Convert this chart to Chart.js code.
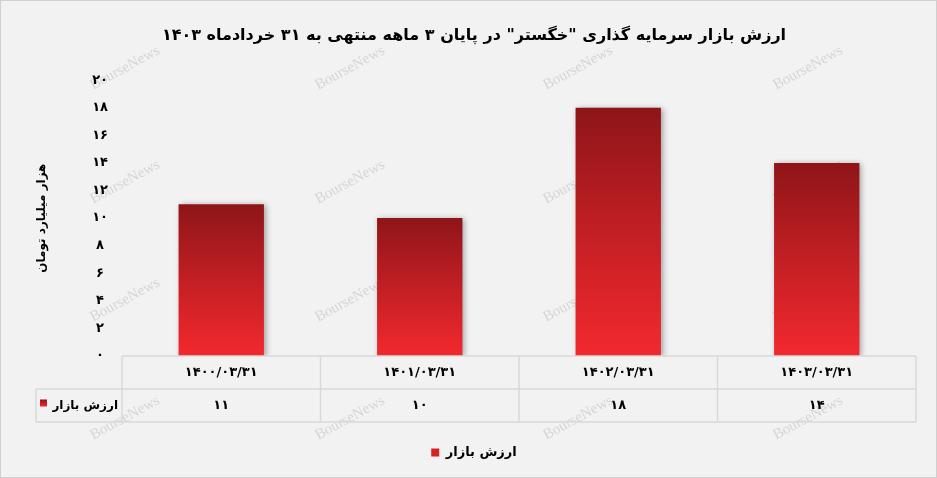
<!DOCTYPE html>
<html>
<head>
<meta charset="utf-8">
<script src="https://cdn.jsdelivr.net/npm/chart.js@4"></script>
<style>
  html, body { margin: 0; padding: 0; background: #f2f2f2; }
  #wrap { width: 937px; height: 478px; }
</style>
</head>
<body>
<div id="wrap"><canvas id="c" width="937" height="478"></canvas></div>
<script>
const categories = ['۱۴۰۰/۰۳/۳۱', '۱۴۰۱/۰۳/۳۱', '۱۴۰۲/۰۳/۳۱', '۱۴۰۳/۰۳/۳۱'];
const marketValue = [11, 10, 18, 14];
const seriesName = 'ارزش بازار';
const titleText = 'ارزش بازار سرمایه گذاری "خگستر" در پایان ۳ ماهه منتهی به ۳۱ خردادماه ۱۴۰۳';
const yTitle = 'هزار میلیارد تومان';
const yMin = 0, yMax = 20, yStep = 2;
const watermark = 'BourseNews';

const FONT = "'DejaVu Sans', sans-serif";
const faDigits = '۰۱۲۳۴۵۶۷۸۹';
function toFa(n) { return String(n).replace(/[0-9]/g, d => faDigits[+d]); }

function barGradient(ctx, chart, value) {
  const y = chart.scales.y;
  const top = y.getPixelForValue(value);
  const bottom = y.getPixelForValue(0);
  const g = ctx.createLinearGradient(0, top, 0, bottom);
  g.addColorStop(0, '#8e1518');
  g.addColorStop(0.5, '#c21f24');
  g.addColorStop(1, '#f2292e');
  return g;
}

const bgPlugin = {
  id: 'bg',
  beforeDraw(chart) {
    const ctx = chart.ctx;
    ctx.save();
    ctx.fillStyle = '#f2f2f2';
    ctx.fillRect(0, 0, chart.width, chart.height);
    ctx.strokeStyle = '#d0d0d0';
    ctx.lineWidth = 1;
    ctx.strokeRect(0.5, 0.5, chart.width - 1, chart.height - 1);
    ctx.font = "15px 'Liberation Serif', serif";
    ctx.fillStyle = 'rgba(160,160,160,0.35)';
    ctx.textAlign = 'center';
    ctx.textBaseline = 'middle';
    const xs = [125, 350, 578, 808];
    const ys = [68, 182, 300, 418];
    xs.forEach(x => ys.forEach(y => {
      ctx.save();
      ctx.translate(x, y);
      ctx.rotate(-0.5);
      ctx.fillText(watermark, 0, 0);
      ctx.restore();
    }));
    ctx.restore();
  },
  beforeDatasetsDraw(chart) {
    const ctx = chart.ctx;
    ctx.save();
    ctx.shadowColor = 'rgba(0,0,0,0.35)';
    ctx.shadowBlur = 6;
    ctx.shadowOffsetX = 2;
    ctx.shadowOffsetY = 1;
  },
  afterDatasetsDraw(chart) {
    chart.ctx.restore();
  }
};

const tablePlugin = {
  id: 'dataTable',
  afterDraw(chart) {
    const ctx = chart.ctx;
    const x = chart.scales.x;
    const area = chart.chartArea;
    const n = categories.length;
    const cw = (area.right - area.left) / n;
    const top = area.bottom;
    const mid = top + 33;
    const bot = mid + 33;
    const leftEdge = 36;
    ctx.save();
    ctx.strokeStyle = '#d9d9d9';
    ctx.lineWidth = 1.5;
    ctx.beginPath();
    ctx.moveTo(area.left, top); ctx.lineTo(area.right, top);
    ctx.moveTo(leftEdge, mid); ctx.lineTo(area.right, mid);
    ctx.moveTo(leftEdge, bot); ctx.lineTo(area.right, bot);
    for (let i = 0; i <= n; i++) {
      const px = area.left + i * cw;
      ctx.moveTo(px, top); ctx.lineTo(px, bot);
    }
    ctx.moveTo(leftEdge, mid); ctx.lineTo(leftEdge, bot);
    ctx.stroke();

    ctx.fillStyle = '#000';
    ctx.font = "bold 13px " + FONT;
    ctx.textBaseline = 'middle';
    ctx.textAlign = 'center';
    const cy = (mid + bot) / 2;
    marketValue.forEach((v, i) => {
      ctx.fillText(toFa(v), x.getPixelForValue(i), cy);
    });
    ctx.font = "bold 12px " + FONT;
    ctx.textAlign = 'right';
    ctx.fillText(seriesName, area.left - 4, cy);
    const g = ctx.createLinearGradient(0, cy - 6, 0, cy + 1);
    g.addColorStop(0, '#8e1518'); g.addColorStop(1, '#f2292e');
    ctx.fillStyle = g;
    ctx.fillRect(40, cy - 6, 7, 7);
    ctx.restore();
  }
};

new Chart(document.getElementById('c'), {
  type: 'bar',
  data: {
    labels: categories,
    datasets: [{
      label: seriesName,
      data: marketValue,
      backgroundColor(context) {
        if (context.type !== 'data') return '#c21f24';
        return barGradient(context.chart.ctx, context.chart, context.parsed.y);
      },
      borderWidth: 0,
      categoryPercentage: 1,
      barPercentage: 0.43
    }]
  },
  options: {
    responsive: false,
    animation: false,
    devicePixelRatio: 1,
    layout: { padding: { left: 32, right: 21, top: 0, bottom: 9 } },
    plugins: {
      title: {
        display: true,
        text: titleText,
        color: '#000',
        font: { family: FONT, size: 16, weight: 'bold' },
        padding: { top: 26, bottom: 35 }
      },
      legend: {
        position: 'bottom',
        labels: {
          color: '#000',
          font: { family: FONT, size: 13, weight: 'bold' },
          boxWidth: 8,
          boxHeight: 8,
          padding: 10,
          generateLabels(chart) {
            return [{ text: seriesName, fillStyle: '#d62226', strokeStyle: 'rgba(0,0,0,0)', lineWidth: 0, datasetIndex: 0, fontColor: '#000' }];
          }
        }
      },
      tooltip: { enabled: false }
    },
    scales: {
      x: {
        grid: { display: false, drawTicks: false },
        border: { display: false },
        ticks: {
          color: '#000',
          font: { family: FONT, size: 13, weight: 'bold' },
          padding: 9,
          maxRotation: 0
        },
        afterFit(scale) { scale.height = 80; }
      },
      y: {
        min: yMin,
        max: yMax,
        grid: { display: false, drawTicks: false },
        border: { display: false },
        ticks: {
          stepSize: yStep,
          color: '#000',
          crossAlign: 'center',
          padding: 14,
          font: { family: FONT, size: 13, weight: 'bold' },
          callback: v => toFa(v)
        },
        title: {
          display: true,
          text: yTitle,
          color: '#000',
          font: { family: FONT, size: 12, weight: 'bold' },
          padding: { top: 3, bottom: 0 }
        },
        afterFit(scale) { scale.width = 90; }
      }
    }
  },
  plugins: [bgPlugin, tablePlugin]
});
</script>
</body>
</html>
